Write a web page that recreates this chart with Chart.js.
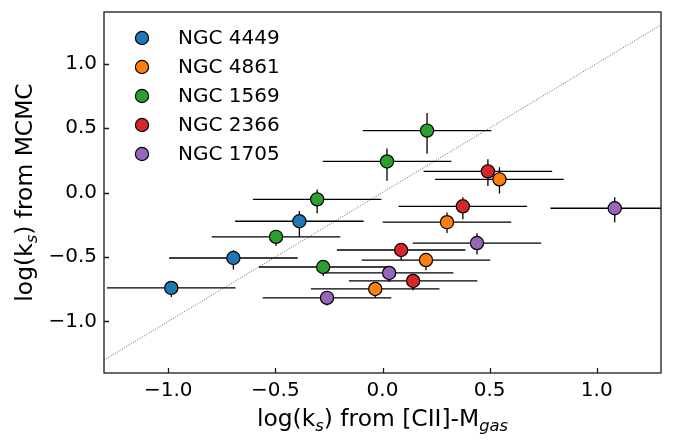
<!DOCTYPE html>
<html>
<head>
<meta charset="utf-8">
<script src="https://cdn.jsdelivr.net/npm/chart.js@4/dist/chart.umd.min.js"></script>
<style>
  html, body { margin: 0; padding: 0; background: #fff; }
  #wrap { width: 674px; height: 447px; position: relative; }
</style>
</head>
<body>
<div id="wrap"><canvas id="ksChart"></canvas></div>
<script>
// ----------------------
//  DATA
// ----------------------
const galaxies = ['NGC 4449', 'NGC 4861', 'NGC 1569', 'NGC 2366', 'NGC 1705'];

// log(k_s) from [CII]-M_gas (x) and from MCMC (y)
const ngc4449X = [-0.986, -0.696, -0.388];
const ngc4449Y = [-0.740, -0.508, -0.223];
const ngc4449Lo = [0.07, 0.09, 0.12];
const ngc4449Hi = [0.05, 0.06, 0.08];

const ngc4861X = [0.546, 0.301, 0.203, -0.034];
const ngc4861Y = [0.102, -0.230, -0.524, -0.748];
const ngc4861Lo = [0.11, 0.085, 0.08, 0.07];
const ngc4861Hi = [0.093, 0.074, 0.05, 0.05];

const ngc1569X = [-0.497, -0.305, -0.277, 0.021, 0.208];
const ngc1569Y = [-0.344, -0.053, -0.578, 0.241, 0.480];
const ngc1569Lo = [0.07, 0.108, 0.07, 0.15, 0.18];
const ngc1569Hi = [0.04, 0.077, 0.05, 0.10, 0.137];

const ngc2366X = [0.492, 0.375, 0.087, 0.143];
const ngc2366Y = [0.164, -0.107, -0.446, -0.686];
const ngc2366Lo = [0.113, 0.10, 0.077, 0.073];
const ngc2366Hi = [0.093, 0.07, 0.05, 0.05];

const ngc1705X = [1.084, 0.441, 0.031, -0.259];
const ngc1705Y = [-0.122, -0.392, -0.624, -0.817];
const ngc1705Lo = [0.108, 0.088, 0.07, 0.06];
const ngc1705Hi = [0.085, 0.075, 0.05, 0.05];

// x error is the same for every point
const xErr = 0.30;

// one-to-one line
const oneToOne = [-1.3, 1.3];

const xTicks = [-1.0, -0.5, 0.0, 0.5, 1.0];
const yTicks = [-1.0, -0.5, 0.0, 0.5, 1.0];

// ----------------------
//  STYLE
// ----------------------
const colors = ['#1f77b4', '#ff7f0e', '#2ca02c', '#d62728', '#9467bd'];
const FONT = "'DejaVu Sans', sans-serif";
const tickSize = 20;
const labelSize = 23.4;

const series = [
    [ngc4449X, ngc4449Y, ngc4449Lo, ngc4449Hi],
    [ngc4861X, ngc4861Y, ngc4861Lo, ngc4861Hi],
    [ngc1569X, ngc1569Y, ngc1569Lo, ngc1569Hi],
    [ngc2366X, ngc2366Y, ngc2366Lo, ngc2366Hi],
    [ngc1705X, ngc1705Y, ngc1705Lo, ngc1705Hi],
];

let datasets = series.map(function (s, i) {
    return {
        label: galaxies[i],
        data: s[0].map(function (x, j) {
            return { x: x, y: s[1][j], lo: s[2][j], hi: s[3][j] };
        }),
        backgroundColor: colors[i],
        borderColor: '#000',
        borderWidth: 1.2,
        pointRadius: 6.6,
        pointHoverRadius: 6.6,
        order: 10 - i,
        errorBars: true,
    };
});

datasets.push({
    type: 'line',
    label: '1:1',
    data: oneToOne.map(function (v) { return { x: v, y: v }; }),
    borderColor: '#333',
    borderWidth: 0.8,
    borderDash: [1, 1.6],
    pointRadius: 0,
    fill: false,
    order: 20,
});

function fmt(v) {
    return v.toFixed(1).replace('-', '\u2212');
}

// text with subscripts, parts: [text, isSub]
function mathText(ctx, parts, size) {
    let w = 0;
    parts.forEach(function (p) {
        ctx.font = (p[1] ? 'italic ' + (size * 0.7) : size) + 'px ' + FONT;
        w += ctx.measureText(p[0]).width;
    });
    return w;
}
function drawMath(ctx, parts, size, cx, baseline) {
    let x = cx - mathText(ctx, parts, size) / 2;
    ctx.textAlign = 'left';
    ctx.textBaseline = 'alphabetic';
    parts.forEach(function (p) {
        ctx.font = (p[1] ? 'italic ' + (size * 0.7) : size) + 'px ' + FONT;
        ctx.fillText(p[0], x, p[1] ? baseline + size * 0.22 : baseline);
        x += ctx.measureText(p[0]).width;
    });
}

const xTitle = [['log(k', false], ['s', true], [') from [CII]-M', false], ['gas', true]];
const yTitle = [['log(k', false], ['s', true], [') from MCMC', false]];

// ----------------------
//  PLUGIN
// ----------------------
const extras = {
    id: 'extras',
    beforeDatasetDraw(chart, args) {
        const ds = chart.data.datasets[args.index];
        if (!ds.errorBars) return;
        const xs = chart.scales.x, ys = chart.scales.y, a = chart.chartArea;
        const ctx = chart.ctx;
        ctx.save();
        ctx.beginPath();
        ctx.rect(a.left, a.top, a.right - a.left, a.bottom - a.top);
        ctx.clip();
        ctx.strokeStyle = '#000';
        ctx.lineWidth = 1.3;
        ds.data.forEach(function (p) {
            const px = xs.getPixelForValue(p.x), py = ys.getPixelForValue(p.y);
            ctx.beginPath();
            ctx.moveTo(xs.getPixelForValue(p.x - xErr), py);
            ctx.lineTo(xs.getPixelForValue(p.x + xErr), py);
            ctx.moveTo(px, ys.getPixelForValue(p.y - p.lo));
            ctx.lineTo(px, ys.getPixelForValue(p.y + p.hi));
            ctx.stroke();
        });
        ctx.restore();
    },
    afterDraw(chart) {
        const ctx = chart.ctx, a = chart.chartArea;
        const xs = chart.scales.x, ys = chart.scales.y;
        ctx.save();
        // frame
        ctx.strokeStyle = '#1a1a1a';
        ctx.lineWidth = 1.3;
        ctx.strokeRect(a.left, a.top, a.right - a.left, a.bottom - a.top);
        // inward ticks
        ctx.beginPath();
        xTicks.forEach(function (v) {
            const px = Math.round(xs.getPixelForValue(v)) + 0.5;
            ctx.moveTo(px, a.bottom);
            ctx.lineTo(px, a.bottom - 5);
        });
        yTicks.forEach(function (v) {
            const py = Math.round(ys.getPixelForValue(v)) + 0.5;
            ctx.moveTo(a.left, py);
            ctx.lineTo(a.left + 5, py);
        });
        ctx.stroke();

        // legend
        galaxies.forEach(function (g, i) {
            const ly = a.top + 26 + i * 29;
            ctx.beginPath();
            ctx.arc(a.left + 38, ly, 6.6, 0, Math.PI * 2);
            ctx.fillStyle = colors[i];
            ctx.fill();
            ctx.lineWidth = 1.2;
            ctx.strokeStyle = '#000';
            ctx.stroke();
            ctx.fillStyle = '#000';
            ctx.font = tickSize + 'px ' + FONT;
            ctx.textAlign = 'left';
            ctx.textBaseline = 'middle';
            ctx.fillText(g, a.left + 74, ly + 1);
        });

        // axis titles
        ctx.fillStyle = '#000';
        drawMath(ctx, xTitle, labelSize, (a.left + a.right) / 2, 426);
        ctx.translate(32, (a.top + a.bottom) / 2);
        ctx.rotate(-Math.PI / 2);
        drawMath(ctx, yTitle, labelSize, 0, 0);
        ctx.restore();
    }
};

// ----------------------
//  CHART
// ----------------------
const options = {
    responsive: true,
    maintainAspectRatio: false,
    animation: false,
    layout: { padding: { top: 12, right: 13, left: 0, bottom: 0 } },
    plugins: {
        legend: { display: false },
        tooltip: { enabled: false },
    },
    scales: {
        x: {
            type: 'linear',
            min: -1.3,
            max: 1.3,
            afterBuildTicks: function (scale) {
                scale.ticks = xTicks.map(function (v) { return { value: v }; });
            },
            afterFit: function (scale) {
                scale.height = 74;
                scale.paddingLeft = 0;
                scale.paddingRight = 0;
            },
            ticks: {
                padding: 6,
                color: '#000',
                font: { family: FONT, size: tickSize },
                callback: function (value) { return fmt(value); },
            },
            grid: { display: false, drawTicks: false },
            border: { display: false },
        },
        y: {
            type: 'linear',
            min: -1.4,
            max: 1.4,
            afterBuildTicks: function (scale) {
                scale.ticks = yTicks.map(function (v) { return { value: v }; });
            },
            afterFit: function (scale) {
                scale.width = 104;
                scale.paddingTop = 0;
                scale.paddingBottom = 0;
            },
            ticks: {
                padding: 7,
                color: '#000',
                font: { family: FONT, size: tickSize },
                callback: function (value) { return fmt(value); },
            },
            grid: { display: false, drawTicks: false },
            border: { display: false },
        }
    },
};

let ctx = document.getElementById('ksChart').getContext('2d');
let ksChart = new Chart(ctx, {
    type: 'scatter',
    data: { datasets: datasets },
    options: options,
    plugins: [extras],
});
</script>
</body>
</html>
